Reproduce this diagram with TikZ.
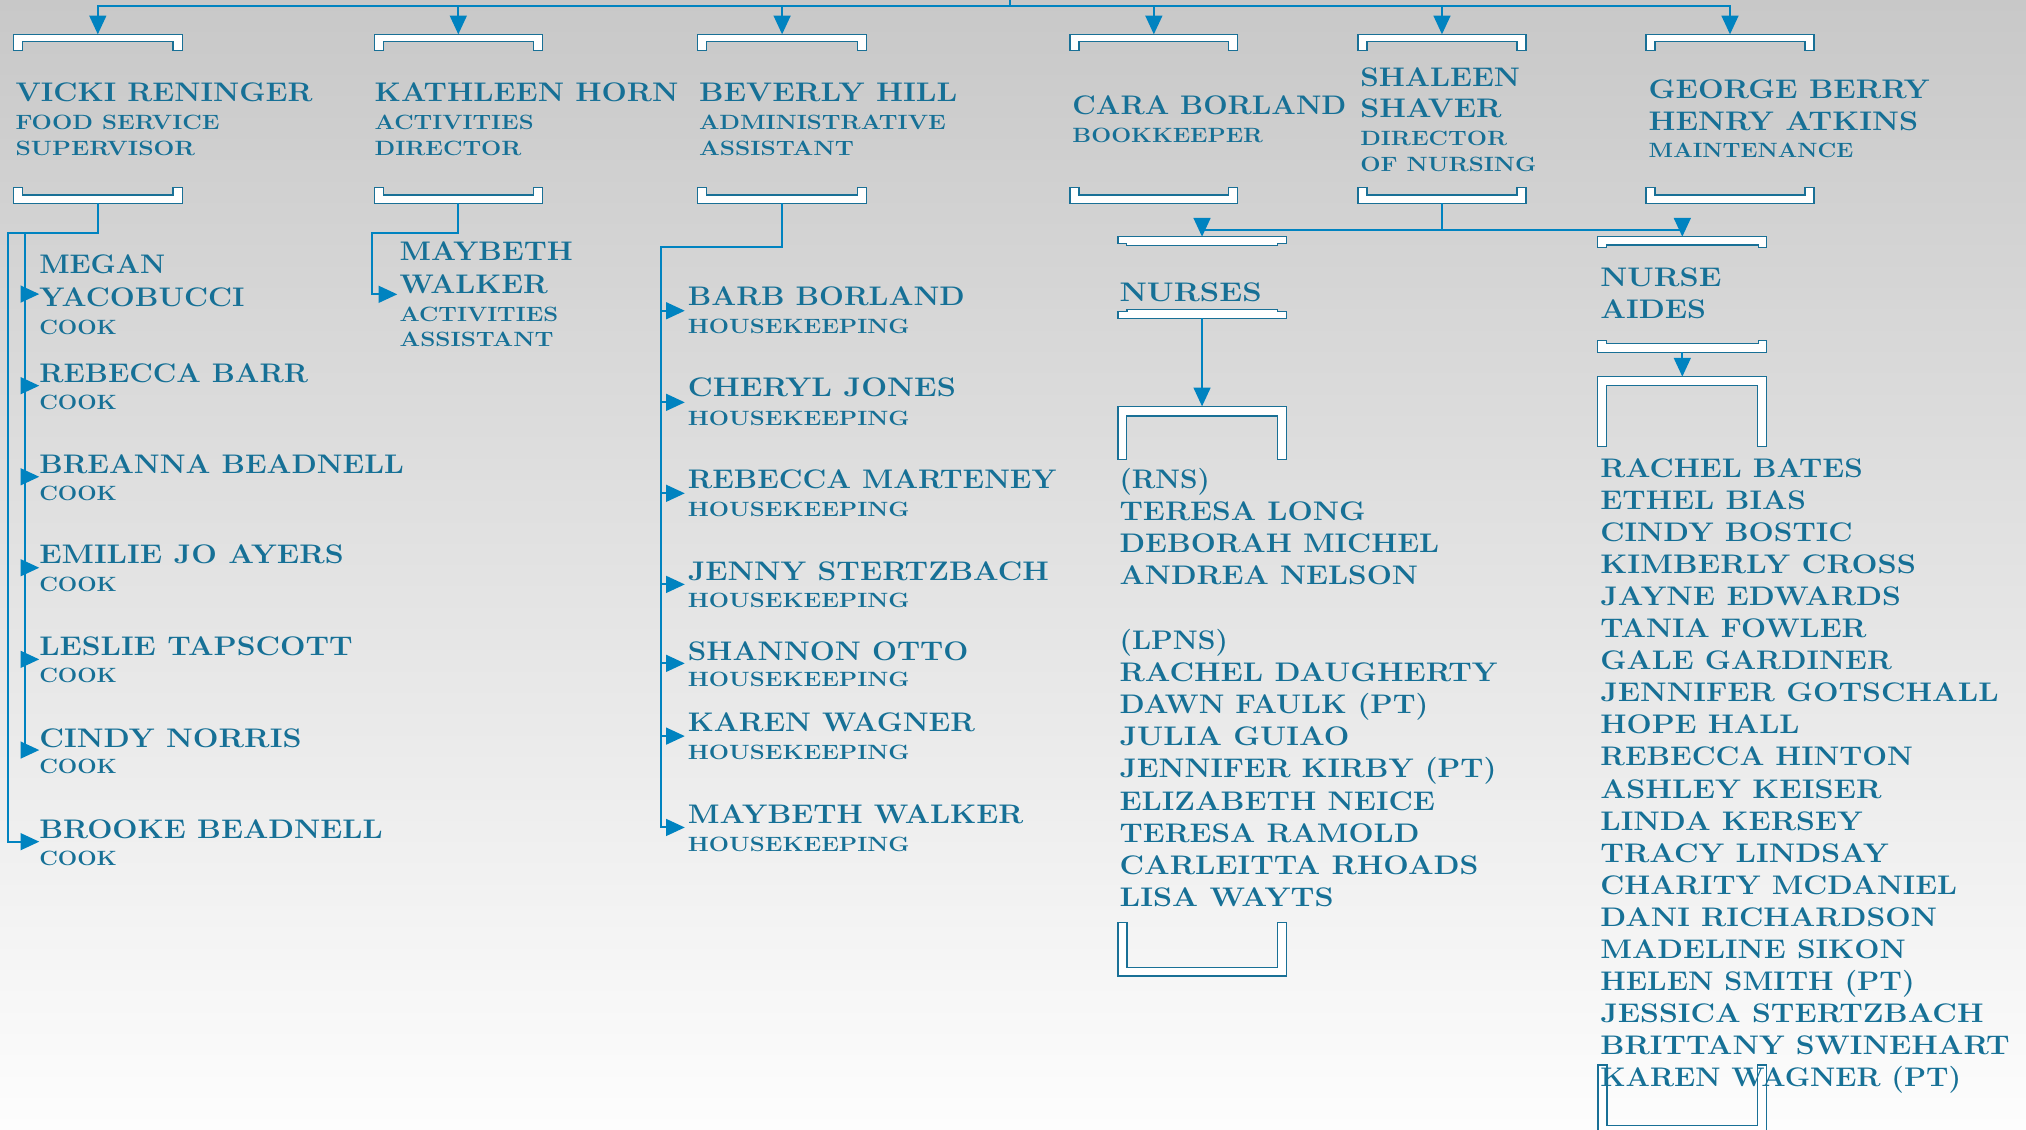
\documentclass[tikz,border=0pt]{standalone}
\usetikzlibrary{arrows.meta}
\usepackage{graphicx}
\definecolor{txtblue}{RGB}{22,112,150}
\definecolor{lnblue}{RGB}{0,131,192}
\definecolor{brkblue}{RGB}{25,112,150}
\definecolor{bgtop}{RGB}{200,200,200}
\definecolor{bgmid}{RGB}{231,231,231}
\definecolor{bgbot}{RGB}{253,253,253}
\newcommand\namefont{\fontsize{20.8}{24}\selectfont\bfseries}
\newcommand\rolefont{\fontsize{16}{19}\selectfont\bfseries}
\tikzset{
 txt/.style={inner sep=0pt, outer sep=0pt, anchor=base west, text=txtblue},
 conn/.style={draw=lnblue, line width=1.6pt},
 arr/.style={conn, -{Triangle[length=14.5pt,width=13pt]}},
 brk/.style={fill=white, draw=brkblue, line width=1pt, line join=miter},
}
\newcommand\NM[5]{\node[txt] (#1) at (#2,#3) {\resizebox{#4pt}{\height}{\namefont #5}};}
\newcommand\RL[5]{\node[txt] (#1) at (#2,#3) {\resizebox{#4pt}{\height}{\rolefont #5}};}
\newcommand\BRK[6]{\filldraw[brk] (#1,#3) -- (#2,#3) -- (#2,#5) -- ({#2-#6},#5) -- ({#2-#6},#4) -- ({#1+#6},#4) -- ({#1+#6},#5) -- (#1,#5) -- cycle;}
\begin{document}
\begin{tikzpicture}[x=1pt,y=-1pt]
\useasboundingbox (0,0) rectangle (1568,874);
\shade[top color=bgtop, middle color=bgmid, bottom color=bgbot] (0,0) rectangle (1568,874);
\clip (0,0) rectangle (1568,874);

% ---------- brackets ----------
\BRK{10.4}{141}{26.6}{32.3}{39.2}{7}
\BRK{289.6}{419.8}{26.6}{32.3}{39.2}{7}
\BRK{540}{670.6}{26.6}{32.3}{39.2}{7}
\BRK{828}{958}{26.6}{32.3}{39.2}{7}
\BRK{1051}{1181}{26.6}{32.3}{39.2}{7}
\BRK{1273.8}{1404}{26.6}{32.3}{39.2}{7}
\BRK{10.4}{141}{157.4}{151}{145}{7}
\BRK{289.6}{419.8}{157.4}{151}{145}{7}
\BRK{540}{670.6}{157.4}{151}{145}{7}
\BRK{828}{958}{157.4}{151}{145}{7}
\BRK{1051}{1181}{157.4}{151}{145}{7}
\BRK{1273.8}{1404}{157.4}{151}{145}{7}
% nurses
\BRK{865.2}{995.5}{183.2}{190.2}{188.3}{6.7}
\BRK{865.2}{995.5}{246.4}{239.4}{241.2}{7}
\BRK{865.2}{995.5}{314.5}{322}{355.5}{6.8}
\BRK{865.2}{995.7}{755.4}{748.7}{714.1}{7}
% nurse aides
\BRK{1236.5}{1367.4}{183.2}{189.6}{191.5}{6.7}
\BRK{1236.5}{1367.4}{272.7}{265.7}{263.8}{6.7}
\BRK{1236.3}{1367.4}{291.5}{298.5}{345.7}{7}
\BRK{1236.7}{1367}{878}{871.3}{824.3}{7}

% ---------- coordinates ----------
\coordinate (root) at (781.6,0);
\coordinate (bus) at (781.6,4.6);
\coordinate (t1) at (75.7,26.6);
\coordinate (t2) at (354.7,26.6);
\coordinate (t3) at (605.3,26.6);
\coordinate (t4) at (893,26.6);
\coordinate (t5) at (1116,26.6);
\coordinate (t6) at (1338.9,26.6);
\coordinate (b1) at (75.7,157.4);
\coordinate (b2) at (354.7,157.4);
\coordinate (b3) at (605.3,157.4);
\coordinate (b5) at (1116,157.4);
\coordinate (vout) at (5.9,180.6);
\coordinate (vline) at (19.7,180.6);
\coordinate (vend) at (19.7,580.5);
\coordinate (abrooke) at (30.4,651.4);
\coordinate (kleft) at (287.8,180.6);
\coordinate (amaybeth) at (307.5,227.8);
\coordinate (bleft) at (511.8,191.4);
\coordinate (awalker) at (530,640.4);
\coordinate (shj) at (1116,178);
\coordinate (ntop) at (930.3,183.2);
\coordinate (atop) at (1302,183.2);
\coordinate (nlow) at (930.3,246.4);
\coordinate (nbig) at (930.3,314.5);
\coordinate (alow) at (1302,272.7);
\coordinate (abig) at (1302,291.5);

% ---------- connectors ----------
\draw[conn] (root) -- (bus);
\foreach \c in {t1,t2,t3,t4,t5,t6} \draw[arr] (bus) -| (\c);
% Vicki group
\draw[arr] (b1) |- (vout) |- (abrooke);
\draw[conn] (vline) -- (vend);
\foreach \y [count=\i] in {227.6,298.5,369,439.4,510.3,580.5}{
  \coordinate (va\i) at (30.4,\y);
  \draw[arr] (vline |- va\i) -- (va\i);
}
% Kathleen group
\draw[arr] (b2) |- (kleft) |- (amaybeth);
% Beverly group
\draw[arr] (b3) |- (bleft) |- (awalker);
\foreach \y [count=\i] in {240.5,311.4,381.8,452.3,513.4,569.7}{
  \coordinate (ba\i) at (530,\y);
  \draw[arr] (bleft |- ba\i) -- (ba\i);
}
% Nursing
\draw[conn] (b5) -- (shj);
\draw[arr] (shj) -| (ntop);
\draw[arr] (shj) -| (atop);
\draw[arr] (nlow) -- (nbig);
\draw[arr] (alow) -- (abig);

% ---------- header texts ----------
\NM{vicki}{12}{78.7}{230}{VICKI RENINGER}
\RL{vicki1}{12}{100}{158}{FOOD SERVICE}
\RL{vicki2}{12}{120.2}{139}{SUPERVISOR}
\NM{kath}{290}{78.7}{235}{KATHLEEN HORN}
\RL{kath1}{290}{100}{123}{ACTIVITIES}
\RL{kath2}{290}{120.2}{113.6}{DIRECTOR}
\NM{bev}{541}{78.7}{200}{BEVERLY HILL}
\RL{bev1}{541}{100}{191}{ADMINISTRATIVE}
\RL{bev2}{541}{120.2}{120}{ASSISTANT}
\NM{cara}{830}{89}{212}{CARA BORLAND}
\RL{cara1}{830}{110}{147.5}{BOOKKEEPER}
\NM{shal}{1052.8}{66.6}{123.6}{SHALEEN}
\NM{shal1}{1052.8}{91.1}{109.3}{SHAVER}
\RL{shal2}{1052.8}{112.7}{113.6}{DIRECTOR}
\RL{shal3}{1052.8}{132.9}{136.2}{OF NURSING}
\NM{geo}{1276}{76.6}{217.5}{GEORGE BERRY}
\NM{geo1}{1276}{101.1}{208.5}{HENRY ATKINS}
\RL{geo2}{1276}{122}{158.4}{MAINTENANCE}

% ---------- Vicki group ----------
\NM{megan}{30.4}{212}{97.5}{MEGAN}
\NM{yaco}{30.4}{236.9}{158.9}{YACOBUCCI}
\RL{cook1}{30.4}{258.8}{60.1}{COOK}
\NM{rbarr}{30.4}{296}{208}{REBECCA BARR}
\RL{cook2}{30.4}{316.8}{60.1}{COOK}
\NM{breanna}{30.4}{366.4}{282.3}{BREANNA BEADNELL}
\RL{cook3}{30.4}{387}{60.1}{COOK}
\NM{emilie}{30.4}{436.5}{235.6}{EMILIE JO AYERS}
\RL{cook4}{30.4}{457.4}{60.1}{COOK}
\NM{leslie}{30.4}{507}{242.6}{LESLIE TAPSCOTT}
\RL{cook5}{30.4}{528.4}{60.1}{COOK}
\NM{cindy}{30.4}{578.4}{203}{CINDY NORRIS}
\RL{cook6}{30.4}{598.5}{60.1}{COOK}
\NM{brooke}{30.4}{648.9}{265.8}{BROOKE BEADNELL}
\RL{cook7}{30.4}{670}{60.1}{COOK}

% ---------- Kathleen group ----------
\NM{mayb}{309.3}{202}{134}{MAYBETH}
\NM{mayb1}{309.3}{227}{114.7}{WALKER}
\RL{mayb2}{309.3}{249}{122.7}{ACTIVITIES}
\RL{mayb3}{309.3}{268.3}{119.2}{ASSISTANT}

% ---------- Beverly group ----------
\NM{barb}{532.4}{236.8}{214.3}{BARB BORLAND}
\RL{hk1}{532.4}{258}{171.6}{HOUSEKEEPING}
\NM{cheryl}{532.4}{307}{207.4}{CHERYL JONES}
\RL{hk2}{532.4}{329.5}{171.6}{HOUSEKEEPING}
\NM{rmart}{532.4}{378}{285.1}{REBECCA MARTENEY}
\RL{hk3}{532.4}{400}{171.6}{HOUSEKEEPING}
\NM{jenny}{532.4}{449}{279.3}{JENNY STERTZBACH}
\RL{hk4}{532.4}{470.3}{171.6}{HOUSEKEEPING}
\NM{shannon}{532.4}{510.8}{217.1}{SHANNON OTTO}
\RL{hk5}{532.4}{531.5}{171.6}{HOUSEKEEPING}
\NM{karen}{532.4}{566.3}{222.2}{KAREN WAGNER}
\RL{hk6}{532.4}{587.7}{171.6}{HOUSEKEEPING}
\NM{mwalker}{532.4}{637.2}{259.6}{MAYBETH WALKER}
\RL{hk7}{532.4}{658.7}{171.6}{HOUSEKEEPING}

% ---------- Nurses ----------
\NM{nurses}{866.5}{233.5}{110}{NURSES}
\foreach \t/\w [count=\i from 0] in {(RNS)/69.9, TERESA LONG/190.4, DEBORAH MICHEL/247.4, ANDREA NELSON/231}
  \node[txt] (rn\i) at (866.5,{377.9+24.9*\i}) {\resizebox{\w pt}{\height}{\namefont \t}};
\foreach \t/\w [count=\i from 5] in {(LPNS)/83.9, RACHEL DAUGHERTY/292.5, DAWN FAULK (PT)/238.9, JULIA GUIAO/177.8, JENNIFER KIRBY (PT)/291.7, ELIZABETH NEICE/244.1, TERESA RAMOLD/232, CARLEITTA RHOADS/277.7, LISA WAYTS/165.6}
  \node[txt] (lp\i) at (866.5,{377.9+24.9*\i}) {\resizebox{\w pt}{\height}{\namefont \t}};

% ---------- Nurse aides ----------
\NM{aides}{1238.6}{221.9}{93.7}{NURSE}
\NM{aides1}{1238.6}{246.4}{81.8}{AIDES}
\foreach \t/\w [count=\i from 0] in {RACHEL BATES/203.1, ETHEL BIAS/159.2, CINDY BOSTIC/195.2, KIMBERLY CROSS/244.2, JAYNE EDWARDS/232.6, TANIA FOWLER/206, GALE GARDINER/225.6, JENNIFER GOTSCHALL/308.2, HOPE HALL/154.1, REBECCA HINTON/241.9, ASHLEY KEISER/217.6, LINDA KERSEY/203.1, TRACY LINDSAY/223.2, CHARITY MCDANIEL/276, DANI RICHARDSON/260.6, MADELINE SIKON/236.3, HELEN SMITH (PT)/243.3, JESSICA STERTZBACH/296.5, BRITTANY SWINEHART/316.7, KAREN WAGNER (PT)/279.2}
  \node[txt] (na\i) at (1238.6,{369.3+24.83*\i}) {\resizebox{\w pt}{\height}{\namefont \t}};
\end{tikzpicture}
\end{document}
